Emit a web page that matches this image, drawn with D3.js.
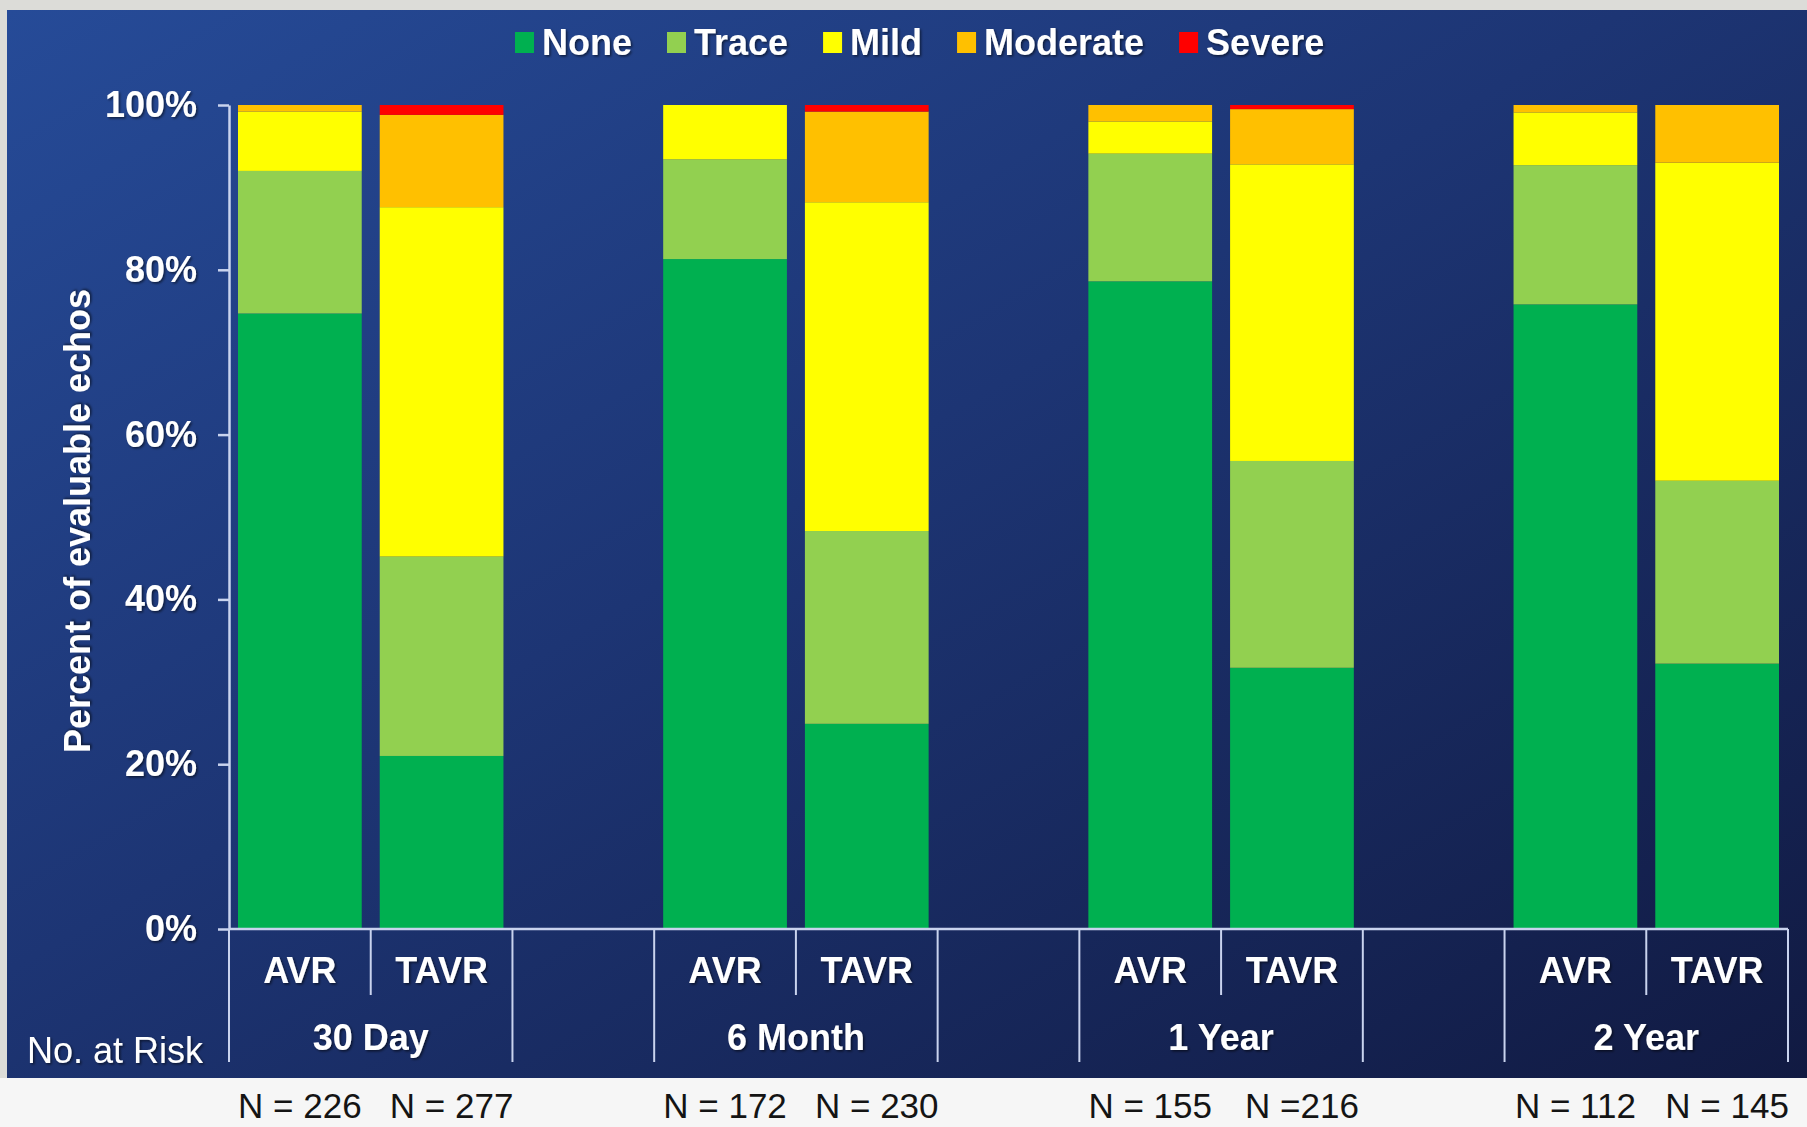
<!DOCTYPE html>
<html>
<head>
<meta charset="utf-8">
<script src="https://cdn.jsdelivr.net/npm/d3@7"></script>
<style>
  html, body { margin: 0; padding: 0; background: #f6f6f6; }
  svg { display: block; }
  text { font-family: "Liberation Sans", Arial, sans-serif; }
</style>
</head>
<body>
<svg id="chart" width="1807" height="1127"></svg>
<script>
// Follow-up time points and treatment arms
const timepoints = ["30 Day", "6 Month", "1 Year", "2 Year"];
const arms = ["AVR", "TAVR"];
const grades = ["None", "Trace", "Mild", "Moderate", "Severe"];
const gradeColors = ["#00b050", "#92d050", "#ffff00", "#ffc000", "#ff0000"];

// Percent of evaluable echos per bar (30 Day AVR, 30 Day TAVR, 6 Month AVR, ...)
const noneVals     = [74.7, 21.0, 81.3, 24.9, 78.6, 31.7, 75.8, 32.2];
const traceVals    = [17.3, 24.2, 12.1, 23.4, 15.5, 25.1, 16.9, 22.2];
const mildVals     = [ 7.2, 42.4,  6.6, 39.9,  3.9, 36.0,  6.4, 38.6];
const moderateVals = [ 0.8, 11.2,  0.0, 11.0,  2.0,  6.7,  0.9,  7.0];
const severeVals   = [ 0.0,  1.2,  0.0,  0.8,  0.0,  0.5,  0.0,  0.0];

// Patients at risk under each bar
const atRisk = ["N = 226", "N = 277", "N = 172", "N = 230", "N = 155", "N =216", "N = 112", "N = 145"];

const yTicks = [0, 20, 40, 60, 80, 100];

const svg = d3.select("#chart");
const W = 1807, H = 1127;

// ---- background panel ----
const defs = svg.append("defs");
const grad = defs.append("linearGradient").attr("id", "panelGrad")
  .attr("x1", "0%").attr("y1", "0%").attr("x2", "100%").attr("y2", "100%");
grad.append("stop").attr("offset", "0%").attr("stop-color", "#264b98");
grad.append("stop").attr("offset", "45%").attr("stop-color", "#1d3574");
grad.append("stop").attr("offset", "100%").attr("stop-color", "#111a42");

const shadow = defs.append("filter").attr("id", "txtShadow")
  .attr("x", "-10%").attr("y", "-10%").attr("width", "130%").attr("height", "140%");
shadow.append("feDropShadow").attr("dx", 1.5).attr("dy", 1.5).attr("stdDeviation", 1)
  .attr("flood-color", "#000").attr("flood-opacity", 0.55);

svg.append("rect").attr("x", 0).attr("y", 0).attr("width", W).attr("height", 1078).attr("fill", "#dcdcd8");
svg.append("rect").attr("x", 7).attr("y", 10).attr("width", W - 7).attr("height", 1068).attr("fill", "url(#panelGrad)");

// ---- scales ----
// 11 slots: two arms per time point with an empty slot between time points
const slots = [];
timepoints.forEach((t, i) => {
  arms.forEach(a => slots.push(t + "|" + a));
  if (i < timepoints.length - 1) slots.push("gap" + i);
});

const x = d3.scaleBand().domain(slots).range([229, 1788]).padding(0);
const barW = x.bandwidth() * 0.873;
const y = d3.scaleLinear().domain([0, 100]).range([929, 105]);

// ---- stacked bars ----
const rows = [];
timepoints.forEach((t, i) => arms.forEach((a, j) => {
  const k = i * 2 + j;
  rows.push({
    key: t + "|" + a,
    None: noneVals[k], Trace: traceVals[k], Mild: mildVals[k],
    Moderate: moderateVals[k], Severe: severeVals[k]
  });
}));
const stacked = d3.stack().keys(grades)(rows);

svg.append("g").selectAll("g")
  .data(stacked)
  .join("g")
  .attr("fill", (d, i) => gradeColors[i])
  .selectAll("rect")
  .data(d => d.filter(s => s[1] - s[0] > 0))
  .join("rect")
  .attr("x", d => x(d.data.key) + (x.bandwidth() - barW) / 2)
  .attr("width", barW)
  .attr("y", d => y(d[1]))
  .attr("height", d => y(d[0]) - y(d[1]));

// ---- y axis ----
const axisColor = "#c9d3ee";
const yAxis = svg.append("g").attr("transform", "translate(229,0)")
  .call(d3.axisLeft(y).tickValues(yTicks).tickFormat(d => d + "%")
    .tickSize(11).tickSizeOuter(0).tickPadding(21));
yAxis.select(".domain").attr("stroke", axisColor).attr("stroke-width", 2.5);
yAxis.selectAll(".tick line").attr("stroke", axisColor).attr("stroke-width", 2.5);
yAxis.selectAll(".tick text")
  .attr("fill", "#ffffff").attr("font-size", 36).attr("font-weight", "bold")
  .attr("font-family", "'Liberation Sans', Arial, sans-serif")
  .attr("filter", "url(#txtShadow)");

svg.append("text")
  .attr("transform", "translate(90,521) rotate(-90)")
  .attr("text-anchor", "middle")
  .attr("fill", "#ffffff").attr("font-size", 36).attr("font-weight", "bold")
  .attr("filter", "url(#txtShadow)")
  .text("Percent of evaluable echos");

// ---- category axis with divider lines ----
const baseY = y(0);
svg.append("line")
  .attr("x1", 229).attr("x2", x.range()[1])
  .attr("y1", baseY).attr("y2", baseY)
  .attr("stroke", axisColor).attr("stroke-width", 2.5);

const dividers = [];
slots.forEach((s, i) => {
  // left edge of each slot; short divider between the two arms of a time point
  const isArmSplit = s.endsWith("|TAVR");
  dividers.push({ x: x(s), short: isArmSplit });
});
dividers.push({ x: x.range()[1], short: false });

svg.append("g").selectAll("line")
  .data(dividers)
  .join("line")
  .attr("x1", d => d.x).attr("x2", d => d.x)
  .attr("y1", baseY)
  .attr("y2", d => d.short ? 995 : 1062)
  .attr("stroke", axisColor).attr("stroke-width", 2);

// arm labels
svg.append("g").selectAll("text")
  .data(rows)
  .join("text")
  .attr("x", d => x(d.key) + x.bandwidth() / 2)
  .attr("y", 983)
  .attr("text-anchor", "middle")
  .attr("fill", "#ffffff").attr("font-size", 36).attr("font-weight", "bold")
  .attr("filter", "url(#txtShadow)")
  .text(d => d.key.split("|")[1]);

// time point labels
svg.append("g").selectAll("text")
  .data(timepoints)
  .join("text")
  .attr("x", t => x(t + "|TAVR"))
  .attr("y", 1050)
  .attr("text-anchor", "middle")
  .attr("fill", "#ffffff").attr("font-size", 36).attr("font-weight", "bold")
  .attr("filter", "url(#txtShadow)")
  .text(t => t);

svg.append("text")
  .attr("x", 27).attr("y", 1063)
  .attr("fill", "#ffffff").attr("font-size", 36)
  .attr("filter", "url(#txtShadow)")
  .text("No. at Risk");

// patients at risk under the panel
svg.append("g").selectAll("text")
  .data(rows)
  .join("text")
  .attr("x", (d, i) => x(d.key) + x.bandwidth() / 2 + (i % 2 ? 10 : 0))
  .attr("y", 1118)
  .attr("text-anchor", "middle")
  .attr("fill", "#141414").attr("font-size", 35)
  .text((d, i) => atRisk[i]);

// ---- legend ----
const legend = svg.append("g");
let lx = 515;
grades.forEach((g, i) => {
  legend.append("rect")
    .attr("x", lx).attr("y", 32).attr("width", 19).attr("height", 21)
    .attr("fill", gradeColors[i]);
  const t = legend.append("text")
    .attr("x", lx + 27).attr("y", 55)
    .attr("fill", "#ffffff").attr("font-size", 36).attr("font-weight", "bold")
    .attr("filter", "url(#txtShadow)")
    .text(g);
  lx += 27 + t.node().getComputedTextLength() + 35;
});
</script>
</body>
</html>
